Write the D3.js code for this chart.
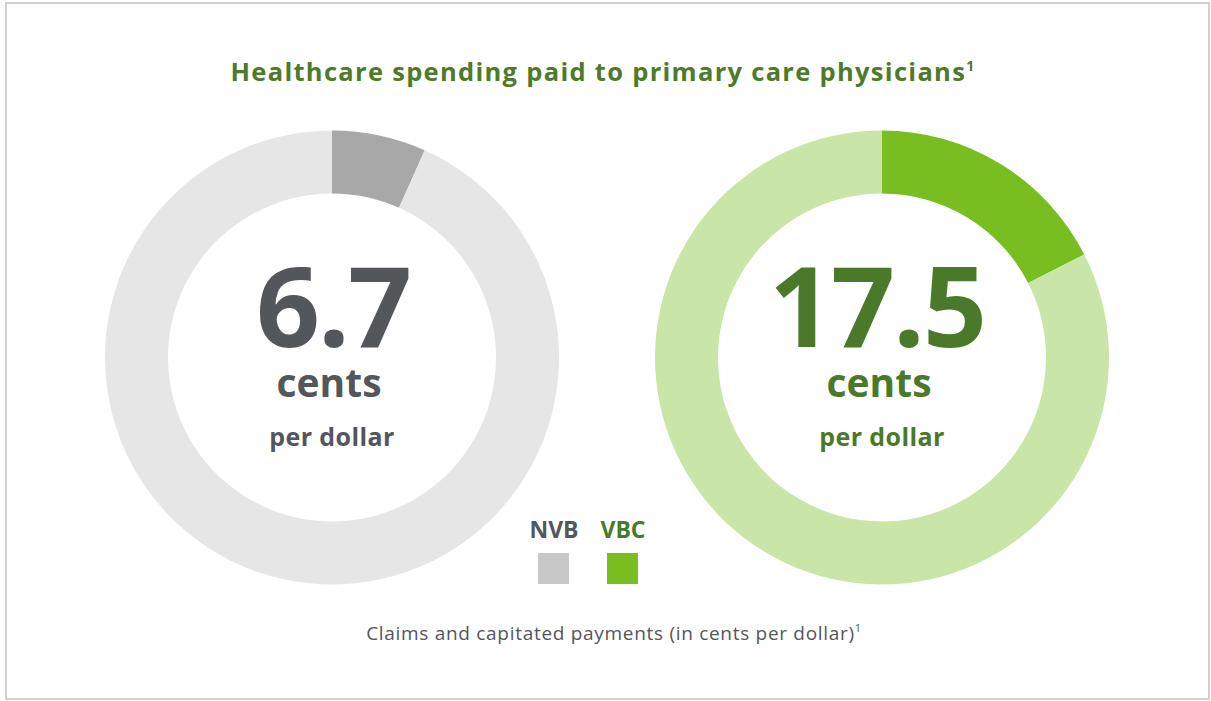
<!DOCTYPE html>
<html><head><meta charset="utf-8">
<script src="https://cdn.jsdelivr.net/npm/d3@7"></script>
<style>body{margin:0;background:#fff}svg{display:block}text{font-family:"Open Sans","Noto Sans",sans-serif}</style>
</head><body>
<script>
const categories = ["NVB", "VBC"];
const values = [6.7, 17.5];
const totals = [100, 100];
const valueLabels = ["6.7", "17.5"];
const title = "Healthcare spending paid to primary care physicians";
const footnote = "Claims and capitated payments (in cents per dollar)";

const W = 1211, H = 701;
const svg = d3.select("body").append("svg").attr("width", W).attr("height", H);
svg.append("rect").attr("x", 6).attr("y", 3).attr("width", 1203).attr("height", 696)
  .attr("fill", "#fff").attr("stroke", "#d0d0d0").attr("stroke-width", 2);

const t = svg.append("text").attr("x", 603).attr("y", 81).attr("text-anchor", "middle")
  .attr("fill", "#4e7a2a").attr("font-weight", 700).attr("font-size", 25.5).attr("letter-spacing", 1.3);
t.append("tspan").text(title);
t.append("tspan").attr("font-size", 14).attr("dy", -10).text("1");

const x = d3.scaleOrdinal().domain(categories).range([332, 882]);
const cy = 357.5;
const bgColors = {NVB: "#e6e6e6", VBC: "#c9e5a7"};
const fgColors = {NVB: "#a8a8a9", VBC: "#78be20"};
const textColors = {NVB: "#53565a", VBC: "#4a7a29"};
const arc = d3.arc().innerRadius(164).outerRadius(227);
const pie = d3.pie().sort(null).value(d => d);

categories.forEach((c, i) => {
  const g = svg.append("g").attr("transform", `translate(${x(c)},${cy})`);
  const arcs = pie([values[i], totals[i] - values[i]]);
  g.selectAll("path").data(arcs).join("path").attr("d", arc)
    .attr("fill", (d, j) => j === 0 ? fgColors[c] : bgColors[c]);
  g.append("text").attr("x", i === 0 ? 1 : -5).attr("y", -11).attr("text-anchor", "middle").attr("fill", textColors[c])
    .attr("font-weight", 700).attr("font-size", 112).attr("letter-spacing", -2).text(valueLabels[i]);
  g.append("text").attr("x", -3).attr("y", 39).attr("text-anchor", "middle").attr("fill", textColors[c])
    .attr("font-weight", 700).attr("font-size", 39).text("cents");
  g.append("text").attr("y", 88).attr("text-anchor", "middle").attr("fill", textColors[c])
    .attr("font-weight", 700).attr("font-size", 25).attr("letter-spacing", 0.4).text("per dollar");
});

const lx = d3.scaleOrdinal().domain(categories).range([554, 623]);
const legendColors = {NVB: "#c8c8c8", VBC: "#78be20"};
categories.forEach(c => {
  svg.append("text").attr("x", lx(c)).attr("y", 538).attr("text-anchor", "middle")
    .attr("fill", textColors[c]).attr("font-weight", 700).attr("font-size", 23).text(c);
  svg.append("rect").attr("x", lx(c) - 16).attr("y", 553).attr("width", 31).attr("height", 31)
    .attr("fill", legendColors[c]);
});

const f = svg.append("text").attr("x", 614).attr("y", 640).attr("text-anchor", "middle")
  .attr("fill", "#53565a").attr("font-size", 19).attr("letter-spacing", 0.7);
f.append("tspan").text(footnote);
f.append("tspan").attr("font-size", 11).attr("dy", -8).text("1");
</script>
</body></html>
